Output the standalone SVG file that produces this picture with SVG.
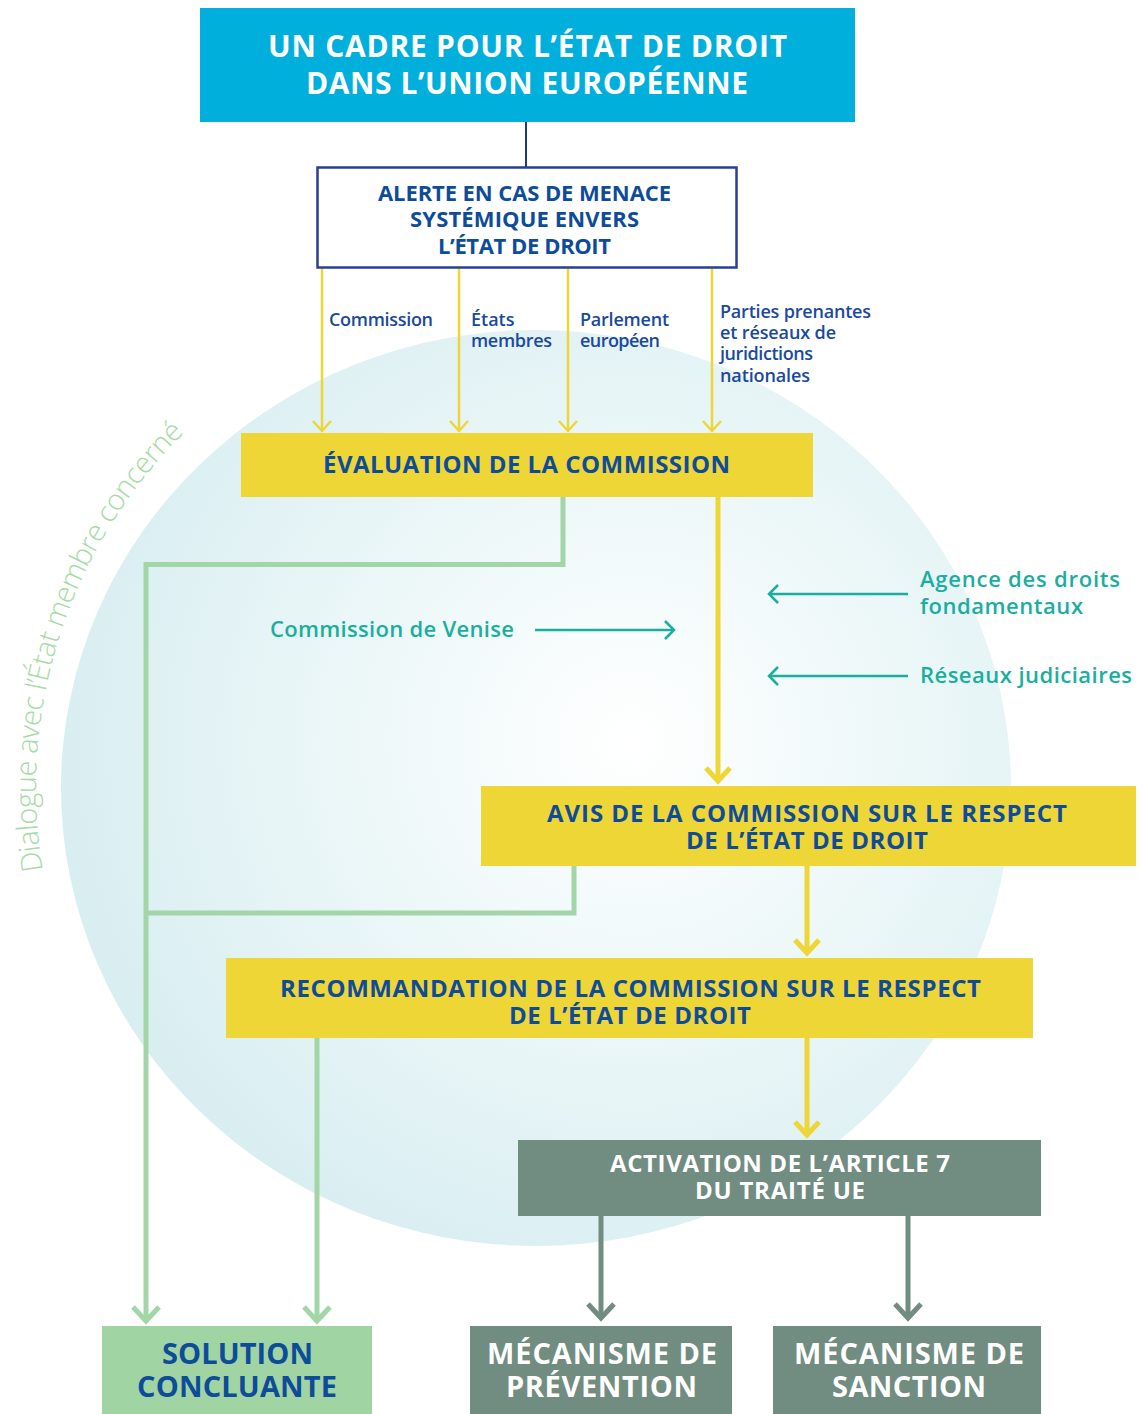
<svg xmlns="http://www.w3.org/2000/svg" width="1143" height="1414" viewBox="0 0 1143 1414">
<defs>
<radialGradient id="bg" cx="0.6" cy="0.45" r="0.6">
<stop offset="0" stop-color="#ffffff"/>
<stop offset="0.45" stop-color="#eef8f9"/>
<stop offset="1" stop-color="#d9eef1"/>
</radialGradient>
<marker id="aY" markerUnits="userSpaceOnUse" markerWidth="30" markerHeight="30" viewBox="-15 -15 30 30" refX="0" refY="0" orient="auto">
<path d="M-10,-9 L0,0 L-10,9" fill="none" stroke="#efd637" stroke-width="2.5"/>
</marker>
<marker id="aYb" markerUnits="userSpaceOnUse" markerWidth="40" markerHeight="40" viewBox="-20 -20 40 40" refX="0" refY="0" orient="auto">
<path d="M-13,-12 L0,0 L-13,12" fill="none" stroke="#efd637" stroke-width="5"/>
</marker>
<marker id="aG" markerUnits="userSpaceOnUse" markerWidth="40" markerHeight="40" viewBox="-20 -20 40 40" refX="0" refY="0" orient="auto">
<path d="M-14,-13 L0,0 L-14,13" fill="none" stroke="#a3d6a6" stroke-width="5"/>
</marker>
<marker id="aD" markerUnits="userSpaceOnUse" markerWidth="40" markerHeight="40" viewBox="-20 -20 40 40" refX="0" refY="0" orient="auto">
<path d="M-14,-13 L0,0 L-14,13" fill="none" stroke="#718c80" stroke-width="5"/>
</marker>
<marker id="aT" markerUnits="userSpaceOnUse" markerWidth="30" markerHeight="30" viewBox="-15 -15 30 30" refX="0" refY="0" orient="auto">
<path d="M-9,-9 L0,0 L-9,9" fill="none" stroke="#1aae9f" stroke-width="2.5"/>
</marker>
<path id="arc" d="M42.9,870.5 A500,500 0 0 1 365,318.2"/>
</defs>
<style>
.bold{font-family:"Open Sans","Noto Sans",sans-serif;font-weight:700;text-anchor:middle}
.blue{fill:#0e4c9a}
.white{fill:#ffffff}
.lbl{font-family:"Open Sans","Noto Sans",sans-serif;font-weight:600;font-size:18px;fill:#1a4a9e}
.teal{font-family:"Open Sans","Noto Sans",sans-serif;font-weight:600;font-size:22px;fill:#1aae9f}
.yl{stroke:#efd637;fill:none}
.gl{stroke:#a3d6a6;stroke-width:5;fill:none}
.dl{stroke:#718c80;stroke-width:5;fill:none}
.tl{stroke:#1aae9f;stroke-width:2.5;fill:none}
</style>
<rect width="1143" height="1414" fill="#ffffff"/>
<ellipse cx="536" cy="788" rx="475" ry="458" fill="url(#bg)"/>
<text font-family="'Open Sans','Noto Sans',sans-serif" font-weight="300" font-size="29" fill="#a6dba5"><textPath href="#arc" textLength="478" lengthAdjust="spacing">Dialogue avec l’État membre concerné</textPath></text>

<g id="connectors">
<line x1="526" y1="122" x2="526" y2="167" stroke="#1a3a8c" stroke-width="2"/>
<line class="yl" stroke-width="2.5" x1="322" y1="268" x2="322" y2="431" marker-end="url(#aY)"/>
<line class="yl" stroke-width="2.5" x1="459" y1="268" x2="459" y2="431" marker-end="url(#aY)"/>
<line class="yl" stroke-width="2.5" x1="568" y1="268" x2="568" y2="431" marker-end="url(#aY)"/>
<line class="yl" stroke-width="2.5" x1="712" y1="268" x2="712" y2="431" marker-end="url(#aY)"/>
<line class="yl" stroke-width="5" x1="718" y1="497" x2="718" y2="781" marker-end="url(#aYb)"/>
<line class="yl" stroke-width="5" x1="807" y1="866" x2="807" y2="953" marker-end="url(#aYb)"/>
<line class="yl" stroke-width="5" x1="807" y1="1038" x2="807" y2="1135" marker-end="url(#aYb)"/>
<polyline class="gl" points="563,497 563,564.5 146,564.5 146,1321" marker-end="url(#aG)"/>
<polyline class="gl" points="574,866 574,913 146,913"/>
<line class="gl" x1="317" y1="1038" x2="317" y2="1321" marker-end="url(#aG)"/>
<line class="dl" x1="601" y1="1216" x2="601" y2="1318" marker-end="url(#aD)"/>
<line class="dl" x1="908" y1="1216" x2="908" y2="1318" marker-end="url(#aD)"/>
<line class="tl" x1="535" y1="630" x2="674" y2="630" marker-end="url(#aT)"/>
<line class="tl" x1="908" y1="594" x2="769" y2="594" marker-end="url(#aT)"/>
<line class="tl" x1="908" y1="676" x2="769" y2="676" marker-end="url(#aT)"/>
</g>

<g id="labels">
<text class="lbl" x="329" y="326" textLength="104">Commission</text>
<text class="lbl" x="471" y="326">États</text>
<text class="lbl" x="471" y="347" textLength="81">membres</text>
<text class="lbl" x="580" y="326" textLength="89">Parlement</text>
<text class="lbl" x="580" y="347" textLength="80">européen</text>
<text class="lbl" x="720" y="318" textLength="151">Parties prenantes</text>
<text class="lbl" x="720" y="339" textLength="116">et réseaux de</text>
<text class="lbl" x="720" y="360" textLength="93">juridictions</text>
<text class="lbl" x="720" y="382" textLength="90">nationales</text>
<text class="teal" x="270" y="637" textLength="244">Commission de Venise</text>
<text class="teal" x="920" y="587" textLength="200">Agence des droits</text>
<text class="teal" x="920" y="614" textLength="163">fondamentaux</text>
<text class="teal" x="920" y="683" textLength="212">Réseaux judiciaires</text>
</g>

<g id="title">
<rect x="200" y="8" width="655" height="114" fill="#00afdb"/>
<text class="bold white" x="527.5" y="57" font-size="30" textLength="519">UN CADRE POUR L’ÉTAT DE DROIT</text>
<text class="bold white" x="527" y="94" font-size="30" textLength="442">DANS L’UNION EUROPÉENNE</text>
</g>

<g id="alerte">
<rect x="317.5" y="167.5" width="419" height="100" fill="#ffffff" stroke="#2a3f93" stroke-width="2.5"/>
<text class="bold blue" x="524.5" y="201" font-size="22" textLength="293">ALERTE EN CAS DE MENACE</text>
<text class="bold blue" x="524.5" y="227" font-size="22" textLength="229">SYSTÉMIQUE ENVERS</text>
<text class="bold blue" x="524.5" y="254" font-size="22" textLength="173">L’ÉTAT DE DROIT</text>
</g>

<g id="evaluation">
<rect x="241" y="433" width="572" height="64" fill="#efd637"/>
<text class="bold blue" x="526.5" y="473" font-size="24" textLength="407">ÉVALUATION DE LA COMMISSION</text>
</g>

<g id="avis">
<rect x="481" y="786" width="655" height="80" fill="#efd637"/>
<text class="bold blue" x="807" y="822" font-size="24" textLength="520">AVIS DE LA COMMISSION SUR LE RESPECT</text>
<text class="bold blue" x="807" y="849" font-size="24" textLength="242">DE L’ÉTAT DE DROIT</text>
</g>

<g id="recommandation">
<rect x="226" y="958" width="807" height="80" fill="#efd637"/>
<text class="bold blue" x="630.5" y="997" font-size="24" textLength="701">RECOMMANDATION DE LA COMMISSION SUR LE RESPECT</text>
<text class="bold blue" x="630" y="1024" font-size="24" textLength="242">DE L’ÉTAT DE DROIT</text>
</g>

<g id="activation">
<rect x="518" y="1140" width="523" height="76" fill="#718c80"/>
<text class="bold white" x="780" y="1172" font-size="24" textLength="340">ACTIVATION DE L’ARTICLE 7</text>
<text class="bold white" x="780" y="1199" font-size="24" textLength="170">DU TRAITÉ UE</text>
</g>

<g id="solution">
<rect x="102" y="1326" width="270" height="88" fill="#a0d4a2"/>
<text class="bold blue" x="237.5" y="1364" font-size="29" textLength="151">SOLUTION</text>
<text class="bold blue" x="237" y="1397" font-size="29" textLength="200">CONCLUANTE</text>
</g>

<g id="prevention">
<rect x="470" y="1326" width="262" height="88" fill="#718c80"/>
<text class="bold white" x="602" y="1364" font-size="29" textLength="230">MÉCANISME DE</text>
<text class="bold white" x="601.5" y="1397" font-size="29" textLength="191">PRÉVENTION</text>
</g>

<g id="sanction">
<rect x="773" y="1326" width="268" height="88" fill="#718c80"/>
<text class="bold white" x="909" y="1364" font-size="29" textLength="230">MÉCANISME DE</text>
<text class="bold white" x="909" y="1397" font-size="29" textLength="154">SANCTION</text>
</g>
</svg>
